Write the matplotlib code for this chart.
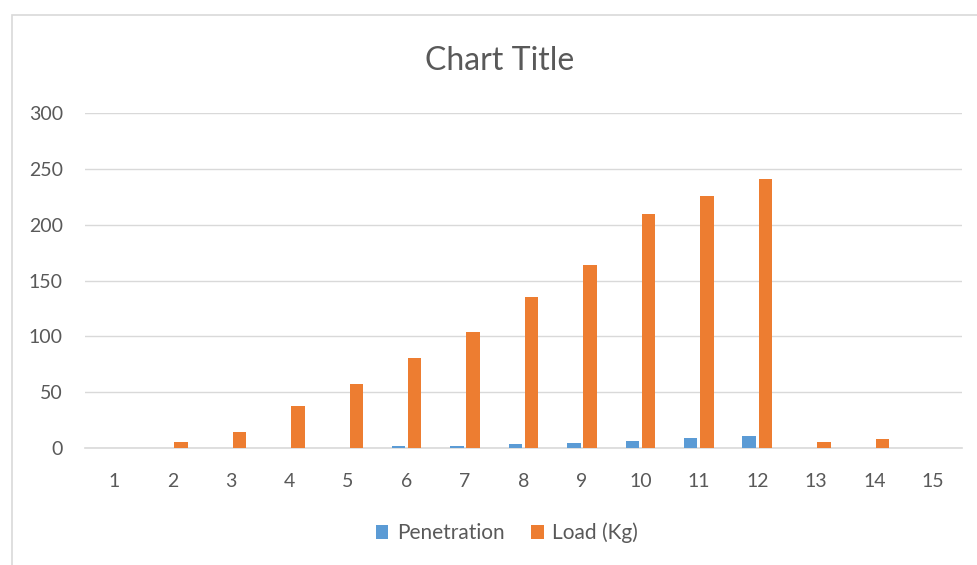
import matplotlib
matplotlib.use('Agg')
from matplotlib import pyplot as plt
from matplotlib.patches import Rectangle
import numpy as np

plt.rcParams['font.family'] = ['Lato', 'DejaVu Sans']

# data
categories = [str(i) for i in range(1, 16)]
penetration = [0, 0, 0, 0, 0, 1.8, 1.8, 3.3, 4.5, 6, 8.7, 11, 0, 0, 0]
load_kg = [0, 5, 14.5, 38, 57, 81, 104, 135, 164, 210, 226, 241, 5, 8, 0]
y_ticks = [0, 50, 100, 150, 200, 250, 300]

blue = '#5B9BD5'
orange = '#ED7D31'
text_col = '#595959'
grid_col = '#D9D9D9'

fig = plt.figure(figsize=(9.78, 5.65), dpi=100)
# outer chart frame
fig.patches.append(Rectangle((12 / 978, -0.01), 1.0, 1 - 15 / 565 + 0.01,
                             transform=fig.transFigure, fill=False,
                             edgecolor='#D9D9D9', linewidth=1.2))

ax = fig.add_axes([85 / 978, 1 - 448 / 565, (962 - 85) / 978, (448 - 113) / 565])

x = np.arange(len(categories))
w = 0.23
gap = 0.05
ax.bar(x - (w + gap) / 2, penetration, w, color=blue, label='Penetration', zorder=3)
ax.bar(x + (w + gap) / 2, load_kg, w, color=orange, label='Load (Kg)', zorder=3)

ax.set_xlim(-0.5, len(categories) - 0.5)
ax.set_ylim(0, 300)
ax.set_yticks(y_ticks)
ax.set_xticks(x)
ax.set_xticklabels(categories)
ax.tick_params(axis='both', length=0, labelsize=14, colors=text_col)
ax.tick_params(axis='y', pad=16)
ax.tick_params(axis='x', pad=18)
ax.grid(axis='y', color=grid_col, linewidth=1, zorder=0)
for s in ['top', 'right', 'left']:
    ax.spines[s].set_visible(False)
ax.spines['bottom'].set_color(grid_col)
ax.spines['bottom'].set_linewidth(1.2)

fig.text(500 / 978, 1 - 61 / 565, 'Chart Title', ha='center', va='center',
         fontsize=23, color=text_col)

fig.legend(loc='center', bbox_to_anchor=(507 / 978, 1 - 533 / 565), ncol=2,
           frameon=False, fontsize=15, labelcolor=text_col,
           handlelength=0.6, handleheight=0.6, handletextpad=0.4, columnspacing=1.3)

plt.savefig('out.png', dpi=100)
plt.close()
